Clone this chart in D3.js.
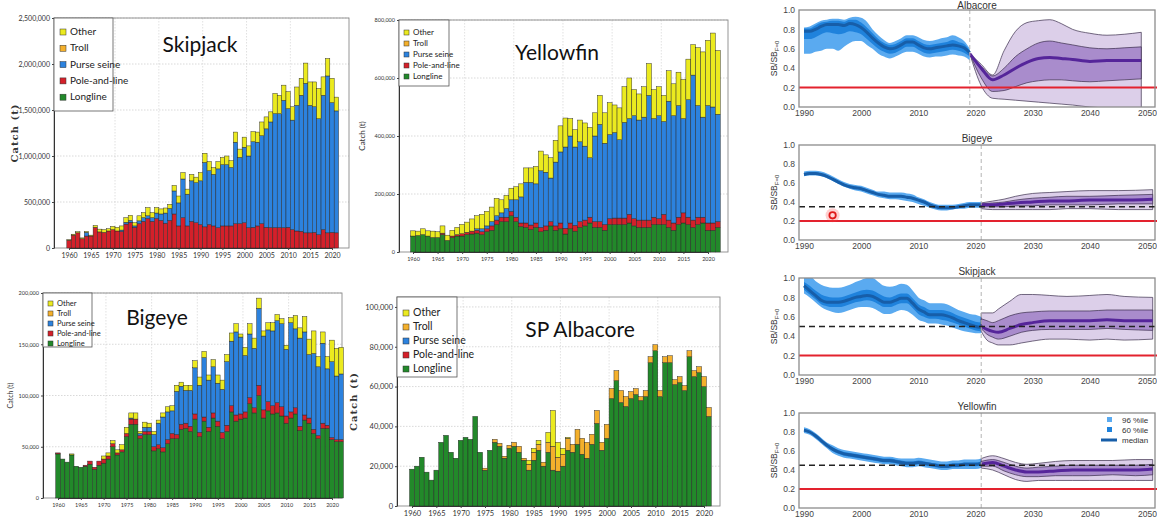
<!DOCTYPE html>
<html>
<head>
<meta charset="utf-8">
<script src="https://cdn.jsdelivr.net/npm/d3@7"></script>
<style>
  body { margin: 0; background: #fff; }
  svg { display: block; }
</style>
</head>
<body>
<svg id="chart" width="1157" height="518"></svg>
<script>
// ---------------- catch data (thousand tonnes) ----------------
var skjYears = d3.range(1960, 2022);
var skjPoleLine = [85,140,165,100,130,130,225,175,170,185, 200,185,180,260,280,225,265,290,320,290, 320,300,270,300,370,240,330,240,290,275, 255,230,255,240,220,240,240,240,265,265, 275,220,225,240,265,225,222,222,222,220, 225,200,185,182,165,165,170,145,200,165, 170,165];
var skjPurse = [0,0,0,0,40,0,0,0,0,0, 0,0,15,20,20,15,30,40,30,40, 60,70,110,130,250,250,420,345,440,435, 475,700,585,560,640,665,665,635,885,720, 820,780,930,910,955,1070,1148,1238,1238,1385, 1290,1190,1365,1478,1625,1385,1365,1260,1460,1705, 1410,1325];
var skjOther = [5,10,12,10,10,10,20,30,30,25, 35,40,45,50,55,35,55,55,90,55, 60,55,55,45,60,75,70,55,70,60, 90,100,100,75,80,80,95,75,110,90, 110,110,110,110,150,130,110,220,200,165, 185,145,200,185,220,255,270,330,200,190, 265,150];

var yftYears = d3.range(1960, 2023);
var yftLongline = [55,57,60,55,50,50,60,40,50,55, 55,60,62,65,60,70,75,95,105,105, 125,105,88,85,78,85,70,75,90,75, 80,62,80,72,85,90,100,85,85,75, 95,95,95,95,100,90,85,85,85,95, 95,95,85,75,95,100,95,85,95,100, 75,75,85];
var yftPoleLine = [0,0,0,0,0,0,5,0,5,5, 8,8,10,10,10,10,15,15,15,15, 15,15,12,15,15,15,15,15,15,15, 20,20,20,20,20,20,20,20,20,20, 20,22,22,22,30,25,25,25,25,25, 20,35,25,25,25,35,25,25,25,20, 25,25,20];
var yftPurse = [0,0,0,0,0,0,0,0,0,0, 0,0,0,5,10,10,15,15,15,30, 40,60,90,140,147,135,195,185,150,220, 245,280,300,270,275,255,205,295,335,280, 290,295,270,330,330,355,345,355,430,340, 355,320,410,370,385,325,405,500,385,345, 405,400,370];
var yftOther = [18,15,20,18,22,20,25,18,20,25, 32,35,42,45,50,50,50,60,45,45, 40,45,45,50,50,60,68,60,70,75, 90,100,60,60,75,80,105,80,100,105, 110,95,110,123,140,90,90,105,110,100, 100,90,105,110,115,135,140,105,200,225, 225,255,220];

var betYears = d3.range(1960, 2023);
var betLongline = [43,38,35,42,31,30,31,33,28,32, 34,38,50,42,45,60,72,72,58,62, 62,46,48,45,53,58,58,67,68,65, 77,60,75,65,78,70,58,65,84,75, 77,78,92,83,100,78,85,82,83,80, 73,78,82,66,76,73,63,58,68,68, 57,55,55];
var betPoleLine = [1,0,0,0,0,0,1,3,2,4, 4,3,3,2,2,3,5,5,3,3, 3,4,4,4,4,5,4,5,5,5, 5,4,4,4,5,5,6,6,6,6, 5,6,6,5,10,8,9,8,10,9, 7,6,6,4,5,5,4,3,5,3, 2,2,2];
var betPurse = [0,0,0,0,0,0,0,0,0,0, 0,0,0,0,0,0,1,0,2,4, 4,12,21,30,27,22,42,37,32,35, 45,46,58,46,45,37,42,62,63,81, 75,55,62,58,75,72,70,73,80,81, 65,87,77,86,81,62,74,67,78,55, 74,62,64];
var betOther = [0,0,0,1,0,0,0,0,0,0, 3,3,3,3,5,6,5,6,2,5, 4,3,3,4,5,5,6,4,5,5, 7,8,6,5,7,8,9,7,8,8, 3,8,10,10,10,5,7,8,6,5, 4,5,13,10,15,15,22,10,11,12, 21,27,26];

var albYears = d3.range(1960, 2022);
var albLongline = [18.5,20,24.5,17,13,18,32,35.5,27,24, 33,34.5,33.5,45,27,18,28,32,30,24, 29,30,27,23,18,23,28,20,27,18, 17.5,20,28,27,31,26,24,31,41.5,28, 34,54,63,52,50,54,56,53,55,72, 78,55,72,72,61,62,58,75,65,67, 60,45];
var albTroll = [0,0,0,0,0,0,0,0,0,0, 0,0,0,0,0,1,0,1.5,1.5,1, 1.5,2,3,1,3,4,3,2,5,12, 7,6,6,4,7.5,8,8,5,6.5,4, 7,5,5,6,5,3.5,3,2,3,3, 3,3,3,3.5,2.5,3,2.5,3,3,3, 5,4.5];
var albOther = [0,0,0,0,0,0,0,0,0,0, 0,0,0,0,0,0,0,0,0,0, 0,0,0,0,2,2,2,0,5,18, 7.5,3,0.5,0,0,0,0,0,0,0, 0,0,0,0,0,0,0,0,0,0, 0,0,0,0,0,0,0,0,0,0, 0,0];

// ---------------- SB/SB_F=0 data ----------------
var albHistYears = d3.range(1990, 2020);
var albHistMed  = [0.78,0.78,0.80,0.83,0.85,0.85,0.85,0.84,0.86,0.85, 0.82,0.77,0.71,0.66,0.62,0.60,0.61,0.64,0.67,0.67, 0.64,0.61,0.60,0.61,0.62,0.63,0.64,0.63,0.61,0.56];
var albHistLo96 = [0.55,0.55,0.57,0.58,0.60,0.60,0.58,0.62,0.66,0.68, 0.68,0.64,0.60,0.55,0.52,0.50,0.52,0.55,0.57,0.57, 0.55,0.52,0.51,0.52,0.52,0.53,0.54,0.53,0.52,0.48];
var albHistHi96 = [0.82,0.83,0.86,0.89,0.90,0.91,0.91,0.90,0.92,0.93, 0.92,0.88,0.80,0.74,0.69,0.66,0.68,0.71,0.74,0.74, 0.72,0.69,0.68,0.69,0.71,0.72,0.74,0.72,0.68,0.60];
var albHistLo60 = [0.70,0.70,0.72,0.75,0.77,0.76,0.75,0.76,0.78,0.77, 0.75,0.70,0.65,0.60,0.57,0.55,0.56,0.59,0.62,0.62, 0.59,0.56,0.55,0.56,0.57,0.58,0.59,0.58,0.56,0.52];
var albHistHi60 = [0.81,0.81,0.84,0.87,0.88,0.89,0.89,0.88,0.90,0.90, 0.87,0.82,0.76,0.70,0.66,0.64,0.65,0.68,0.71,0.71, 0.68,0.65,0.64,0.65,0.66,0.67,0.69,0.67,0.65,0.58];
var albProjYears = [2019,2021,2023,2025,2027,2029,2031,2033,2035,2037,2040,2043,2046,2049];
var albProjMed  = [0.55,0.40,0.28,0.33,0.40,0.46,0.50,0.51,0.50,0.49,0.47,0.48,0.48,0.48];
var albProjHi96 = [0.55,0.44,0.33,0.58,0.78,0.87,0.89,0.90,0.86,0.80,0.76,0.74,0.75,0.77];
var albProjHi60 = [0.55,0.42,0.32,0.40,0.52,0.60,0.66,0.68,0.66,0.64,0.61,0.60,0.61,0.62];
var albProjLo60 = [0.55,0.30,0.16,0.17,0.21,0.25,0.27,0.28,0.28,0.27,0.26,0.27,0.28,0.29];
var albProjLo96 = [0.55,0.22,0.09,0.08,0.07,0.06,0.05,0.04,0.03,0.02,0.00,-0.01,-0.02,-0.02];

var betHistYears = d3.range(1990, 2022);
var betHistMed  = [0.69,0.70,0.70,0.69,0.67,0.64,0.61,0.58,0.56,0.55, 0.54,0.52,0.50,0.48,0.47,0.46,0.46,0.46,0.45,0.44, 0.42,0.40,0.37,0.35,0.34,0.34,0.34,0.35,0.36,0.37, 0.37,0.37];
var betHistHi96 = [0.72,0.73,0.73,0.72,0.70,0.67,0.64,0.61,0.59,0.58, 0.57,0.55,0.53,0.51,0.51,0.50,0.50,0.50,0.49,0.48, 0.45,0.43,0.40,0.38,0.37,0.37,0.37,0.38,0.39,0.40, 0.40,0.40];
var betHistLo96 = [0.67,0.68,0.68,0.67,0.65,0.62,0.59,0.56,0.54,0.52, 0.51,0.49,0.47,0.45,0.44,0.43,0.43,0.42,0.41,0.40, 0.38,0.36,0.34,0.32,0.31,0.31,0.32,0.33,0.33,0.34, 0.34,0.34];
var betHistHi60 = [0.70,0.71,0.71,0.70,0.68,0.65,0.62,0.59,0.57,0.56, 0.55,0.53,0.51,0.49,0.48,0.47,0.47,0.47,0.46,0.45, 0.43,0.41,0.38,0.36,0.35,0.35,0.35,0.36,0.37,0.38, 0.38,0.38];
var betHistLo60 = [0.68,0.69,0.69,0.68,0.66,0.63,0.60,0.57,0.55,0.54, 0.53,0.51,0.49,0.47,0.46,0.45,0.45,0.45,0.44,0.43, 0.41,0.39,0.36,0.34,0.33,0.33,0.33,0.34,0.35,0.36, 0.36,0.36];
var betProjYears = [2021,2023,2025,2027,2030,2033,2036,2040,2045,2051];
var betProjMed  = [0.37,0.37,0.38,0.39,0.40,0.41,0.41,0.42,0.42,0.43];
var betProjHi96 = [0.39,0.41,0.43,0.46,0.49,0.50,0.51,0.52,0.52,0.53];
var betProjHi60 = [0.38,0.39,0.40,0.42,0.44,0.45,0.46,0.46,0.47,0.48];
var betProjLo60 = [0.35,0.35,0.35,0.36,0.36,0.37,0.37,0.37,0.38,0.38];
var betProjLo96 = [0.33,0.32,0.32,0.32,0.32,0.32,0.33,0.33,0.32,0.32];
var betMarker = [{year: 1995, value: 0.26}];

var skjHistYears = d3.range(1990, 2022);
var skjHistMed  = [0.92,0.87,0.82,0.77,0.75,0.75,0.75,0.76,0.78,0.80, 0.81,0.82,0.81,0.78,0.75,0.75,0.77,0.79,0.79,0.74, 0.68,0.65,0.62,0.62,0.62,0.61,0.59,0.56,0.54,0.52, 0.50,0.49];
var skjHistHi96 = [1.02,1.02,0.97,0.93,0.91,0.90,0.90,0.91,0.93,0.96, 0.98,1.00,1.00,0.96,0.92,0.91,0.92,0.94,0.93,0.87, 0.80,0.77,0.74,0.74,0.74,0.73,0.70,0.67,0.65,0.63, 0.62,0.60];
var skjHistLo96 = [0.84,0.80,0.75,0.70,0.67,0.65,0.64,0.65,0.67,0.69, 0.70,0.70,0.69,0.66,0.63,0.63,0.65,0.67,0.66,0.62, 0.57,0.55,0.53,0.53,0.52,0.51,0.49,0.47,0.45,0.44, 0.43,0.43];
var skjHistHi60 = [0.96,0.92,0.87,0.83,0.81,0.80,0.80,0.81,0.83,0.85, 0.87,0.88,0.87,0.84,0.81,0.80,0.82,0.84,0.84,0.79, 0.73,0.70,0.67,0.67,0.67,0.66,0.64,0.61,0.59,0.57, 0.55,0.54];
var skjHistLo60 = [0.88,0.83,0.78,0.73,0.71,0.70,0.70,0.71,0.73,0.75, 0.76,0.77,0.76,0.73,0.70,0.70,0.72,0.74,0.74,0.69, 0.63,0.60,0.58,0.58,0.57,0.56,0.54,0.52,0.50,0.48, 0.46,0.45];
var skjProjYears = [2021,2022,2023,2024,2026,2028,2030,2033,2036,2040,2043,2046,2051];
var skjProjMed  = [0.50,0.47,0.45,0.44,0.48,0.52,0.54,0.56,0.56,0.56,0.57,0.56,0.56];
var skjProjHi96 = [0.64,0.64,0.64,0.68,0.76,0.83,0.83,0.82,0.81,0.82,0.83,0.81,0.80];
var skjProjHi60 = [0.58,0.56,0.54,0.56,0.61,0.64,0.65,0.66,0.66,0.66,0.67,0.67,0.67];
var skjProjLo60 = [0.48,0.42,0.39,0.37,0.40,0.44,0.46,0.47,0.47,0.47,0.48,0.47,0.46];
var skjProjLo96 = [0.45,0.36,0.33,0.31,0.31,0.33,0.35,0.37,0.37,0.36,0.37,0.36,0.37];

var yftHistYears = d3.range(1990, 2022);
var yftHistMed  = [0.82,0.80,0.76,0.71,0.66,0.62,0.59,0.57,0.56,0.55, 0.54,0.53,0.52,0.51,0.50,0.50,0.49,0.48,0.47,0.47, 0.48,0.47,0.46,0.45,0.44,0.44,0.45,0.45,0.46,0.46, 0.46,0.47];
var yftHistHi96 = [0.85,0.83,0.79,0.74,0.69,0.66,0.63,0.61,0.60,0.59, 0.58,0.57,0.56,0.55,0.54,0.54,0.53,0.52,0.52,0.52, 0.53,0.52,0.51,0.50,0.49,0.49,0.50,0.50,0.51,0.51, 0.51,0.52];
var yftHistLo96 = [0.79,0.77,0.73,0.68,0.63,0.58,0.55,0.53,0.52,0.51, 0.50,0.49,0.48,0.47,0.46,0.46,0.45,0.44,0.43,0.43, 0.44,0.43,0.42,0.41,0.40,0.40,0.41,0.41,0.41,0.41, 0.41,0.42];
var yftHistHi60 = [0.83,0.81,0.77,0.72,0.67,0.64,0.61,0.59,0.58,0.57, 0.56,0.55,0.54,0.53,0.52,0.52,0.51,0.50,0.49,0.49, 0.50,0.49,0.48,0.47,0.46,0.46,0.47,0.47,0.48,0.48, 0.48,0.49];
var yftHistLo60 = [0.81,0.79,0.75,0.70,0.65,0.60,0.57,0.55,0.54,0.53, 0.52,0.51,0.50,0.49,0.48,0.48,0.47,0.46,0.45,0.45, 0.46,0.45,0.44,0.43,0.42,0.42,0.43,0.43,0.44,0.44, 0.44,0.45];
var yftProjYears = [2021,2023,2025,2027,2029,2031,2034,2037,2040,2044,2048,2051];
var yftProjMed  = [0.46,0.48,0.44,0.40,0.38,0.38,0.39,0.40,0.40,0.40,0.40,0.41];
var yftProjHi96 = [0.52,0.55,0.52,0.48,0.46,0.47,0.49,0.50,0.50,0.50,0.51,0.51];
var yftProjHi60 = [0.49,0.51,0.48,0.44,0.42,0.43,0.44,0.45,0.45,0.45,0.45,0.46];
var yftProjLo60 = [0.44,0.44,0.39,0.35,0.33,0.33,0.34,0.34,0.34,0.35,0.34,0.35];
var yftProjLo96 = [0.42,0.40,0.35,0.30,0.28,0.29,0.29,0.29,0.29,0.29,0.29,0.29];

var gearKeys = ["Longline", "Pole-and-line", "Purse seine", "Troll", "Other"];
var legendOrder = ["Other", "Troll", "Purse seine", "Pole-and-line", "Longline"];
var sbTicks = [0, 0.2, 0.4, 0.6, 0.8, 1.0];
var yearTicksProj = [1990, 2000, 2010, 2020, 2030, 2040, 2050];
var legendRows = ["96 %ile", "60 %ile", "median"];

var svg = d3.select("#chart");
var gearColor = d3.scaleOrdinal()
    .domain(gearKeys)
    .range(["#22892a", "#d4202a", "#2c82de", "#f4b02c", "#ebea1f"]);
var barFont = "Lato, 'Open Sans', sans-serif";


//================= stacked catch bars =====================//
function barChart(o) {
  var g = svg.append("g");

  var x = d3.scaleLinear().domain([1960, 2020]).range([o.x1960, o.x2020]);
  var y = d3.scaleLinear().domain([0, o.yMax]).range([o.bottom, o.top]);
  var step = x(1961) - x(1960);

  var rows = o.years.map(function(yr, i) {
    var r = {year: yr};
    gearKeys.forEach(function(k) { r[k] = o.series[k] ? o.series[k][i] : 0; });
    return r;
  });
  var stacked = d3.stack().keys(gearKeys)(rows);

  // grid
  g.append("g").selectAll("line").data(o.yTicks.slice(1)).join("line")
    .attr("x1", o.left).attr("x2", o.right)
    .attr("y1", function(d) { return y(d); }).attr("y2", function(d) { return y(d); })
    .attr("stroke", "#c8c8c8").attr("stroke-width", 0.7).attr("stroke-dasharray", "1.5,1.5");
  g.append("g").selectAll("line").data([1970, 1980, 1990, 2000, 2010]).join("line")
    .attr("x1", function(d) { return x(d) + step / 2; }).attr("x2", function(d) { return x(d) + step / 2; })
    .attr("y1", o.top).attr("y2", o.bottom)
    .attr("stroke", "#d4d4d4").attr("stroke-width", 0.7).attr("stroke-dasharray", "1.5,1.5");

  // frame
  g.append("rect").attr("x", o.left).attr("y", o.top)
    .attr("width", o.right - o.left).attr("height", o.bottom - o.top)
    .attr("fill", "none").attr("stroke", "#8a8a8a").attr("stroke-width", 0.9);

  // bars
  g.append("g").selectAll("g").data(stacked).join("g")
    .attr("fill", function(d) { return gearColor(d.key); })
    .selectAll("rect").data(function(d) { return d.filter(function(s) { return s[1] - s[0] > 0; }); }).join("rect")
      .attr("x", function(d) { return x(d.data.year) - step / 2; })
      .attr("width", step)
      .attr("y", function(d) { return y(d[1]); })
      .attr("height", function(d) { return y(d[0]) - y(d[1]); })
      .attr("stroke", "#262626").attr("stroke-width", 0.45);

  // axes
  var yAxis = g.append("g").attr("transform", "translate(" + o.left + ",0)")
    .call(d3.axisLeft(y).tickValues(o.yTicks).tickSize(2).tickSizeOuter(0).tickPadding(2)
      .tickFormat(function(v) { return d3.format(",")(v * 1000); }));
  var xAxis = g.append("g").attr("transform", "translate(0," + o.bottom + ")")
    .call(d3.axisBottom(x).tickValues(d3.range(1960, 2021, 5)).tickSize(2).tickSizeOuter(0).tickPadding(3)
      .tickFormat(d3.format("d")));
  [xAxis, yAxis].forEach(function(a) {
    a.selectAll("text").attr("font-family", barFont)
      .attr("font-size", o.tickFont).attr("fill", "#333");
    a.selectAll("line").attr("stroke", "#444");
    a.select(".domain").attr("stroke", "#333").attr("stroke-width", 1);
  });

  // y label
  svg.append("text")
    .attr("transform", "translate(" + o.yLabelX + "," + ((o.top + o.bottom) / 2) + ") rotate(-90)")
    .attr("text-anchor", "middle")
    .attr("font-family", o.yLabelBold ? "'DejaVu Serif', serif" : "Lato, sans-serif")
    .attr("font-weight", o.yLabelBold ? "bold" : "normal")
    .attr("letter-spacing", o.yLabelBold ? 1 : 0)
    .attr("font-size", o.yLabelFont).attr("fill", "#333")
    .text("Catch (t)");

  // legend
  var lg = g.append("g").attr("transform", "translate(" + o.left + "," + o.top + ")");
  lg.append("rect").attr("width", o.legW).attr("height", o.legH)
    .attr("fill", "#fff").attr("stroke", "#555").attr("stroke-width", 0.8);
  var items = lg.selectAll("g").data(legendOrder).join("g")
    .attr("transform", function(d, i) { return "translate(" + o.legPad + "," + (o.legFirst + i * o.legStep) + ")"; });
  items.append("rect").attr("x", 0).attr("y", -o.sw + 1).attr("width", o.sw).attr("height", o.sw)
    .attr("fill", function(d) { return gearColor(d); }).attr("stroke", "#333").attr("stroke-width", 0.5);
  items.append("text").attr("x", o.sw + 4).attr("y", 1)
    .attr("font-family", barFont).attr("font-size", o.legFont).attr("fill", "#222")
    .text(function(d) { return d; });

  // title
  svg.append("text").attr("x", o.titleX).attr("y", o.titleY).attr("text-anchor", "middle")
    .attr("font-family", barFont).attr("font-size", 21).attr("fill", "#111")
    .text(o.title);
}

barChart({
  title: "Skipjack", titleX: 200, titleY: 52,
  years: skjYears,
  series: {"Pole-and-line": skjPoleLine, "Purse seine": skjPurse, "Other": skjOther},
  left: 54, right: 349, top: 18, bottom: 248, x1960: 69, x2020: 332,
  yMax: 2500, yTicks: [0, 500, 1000, 1500, 2000, 2500], tickFont: 7,
  yLabelX: 18, yLabelFont: 10, yLabelBold: true,
  legW: 59, legH: 93, legPad: 6, legFirst: 16, legStep: 16.3, sw: 6, legFont: 10
});

barChart({
  title: "Yellowfin", titleX: 557, titleY: 60,
  years: yftYears,
  series: {"Longline": yftLongline, "Pole-and-line": yftPoleLine, "Purse seine": yftPurse, "Other": yftOther},
  left: 399, right: 728, top: 20, bottom: 252, x1960: 413, x2020: 708,
  yMax: 800, yTicks: [0, 200, 400, 600, 800], tickFont: 5.5,
  yLabelX: 365, yLabelFont: 8, yLabelBold: false,
  legW: 50, legH: 66, legPad: 5, legFirst: 14, legStep: 11, sw: 5, legFont: 8
});

barChart({
  title: "Bigeye", titleX: 157, titleY: 325,
  years: betYears,
  series: {"Longline": betLongline, "Pole-and-line": betPoleLine, "Purse seine": betPurse, "Other": betOther},
  left: 43, right: 342, top: 293, bottom: 498, x1960: 58, x2020: 332,
  yMax: 200, yTicks: [0, 50, 100, 150, 200], tickFont: 5.5,
  yLabelX: 13, yLabelFont: 7, yLabelBold: false,
  legW: 49, legH: 54, legPad: 5, legFirst: 12, legStep: 10, sw: 5, legFont: 7.5
});

barChart({
  title: "SP Albacore", titleX: 580, titleY: 337,
  years: albYears,
  series: {"Longline": albLongline, "Troll": albTroll, "Other": albOther},
  left: 397, right: 720, top: 297, bottom: 506, x1960: 412, x2020: 704,
  yMax: 105, yTicks: [0, 20, 40, 60, 80, 100], tickFont: 7.5,
  yLabelX: 357, yLabelFont: 10, yLabelBold: true,
  legW: 60, legH: 80, legPad: 6, legFirst: 18, legStep: 14, sw: 6, legFont: 10.5
});


//================= spawning biomass depletion panels =====================//
function sbPanel(o) {
  var g = svg.append("g");
  var x = d3.scaleLinear().domain([1990, 2050]).range([804, 1147]);
  var y = d3.scaleLinear().domain([0, 1]).range([o.bottom, o.top]);
  var left = 799, right = 1155;

  var clipId = "clip" + o.title;
  svg.append("clipPath").attr("id", clipId).append("rect")
    .attr("x", left).attr("y", o.top).attr("width", right - left).attr("height", o.bottom - o.top);

  var inner = g.append("g").attr("clip-path", "url(#" + clipId + ")");

  var band = function(lo, hi) {
    return d3.area().curve(d3.curveMonotoneX)
      .x(function(d, i) { return x(d); })
      .y0(function(d, i) { return y(lo[i]); })
      .y1(function(d, i) { return y(hi[i]); });
  };
  var line = function(v) {
    return d3.line().curve(d3.curveMonotoneX)
      .x(function(d) { return x(d); })
      .y(function(d, i) { return y(v[i]); });
  };

  // historical (blue)
  inner.append("path").attr("d", band(o.hLo96, o.hHi96)(o.hYears)).attr("fill", "#5aaaf0");
  inner.append("path").attr("d", band(o.hLo60, o.hHi60)(o.hYears)).attr("fill", "#1f82dc");
  inner.append("path").attr("d", line(o.hMed)(o.hYears))
    .attr("fill", "none").attr("stroke", "#175ea9").attr("stroke-width", 3);

  // projections (purple)
  inner.append("path").attr("d", band(o.pLo96, o.pHi96)(o.pYears))
    .attr("fill", "#dccfe9").attr("stroke", "#3a2c4a").attr("stroke-width", 0.7);
  inner.append("path").attr("d", band(o.pLo60, o.pHi60)(o.pYears))
    .attr("fill", "#a98ccc").attr("stroke", "#3a2c4a").attr("stroke-width", 0.7);
  inner.append("path").attr("d", line(o.pMed)(o.pYears))
    .attr("fill", "none").attr("stroke", "#55259a").attr("stroke-width", 3);

  // reference lines
  g.append("line").attr("x1", x(o.projStart)).attr("x2", x(o.projStart))
    .attr("y1", o.top).attr("y2", o.bottom)
    .attr("stroke", "#b5b5b5").attr("stroke-width", 1).attr("stroke-dasharray", "4,3");
  if (o.target != null) {
    g.append("line").attr("x1", left).attr("x2", 1157).attr("y1", y(o.target)).attr("y2", y(o.target))
      .attr("stroke", "#222").attr("stroke-width", 1.6).attr("stroke-dasharray", "6,4");
  }
  g.append("line").attr("x1", left).attr("x2", 1157).attr("y1", y(0.2)).attr("y2", y(0.2))
    .attr("stroke", "#e3222e").attr("stroke-width", 2);

  // frame
  g.append("rect").attr("x", left).attr("y", o.top).attr("width", right - left).attr("height", o.bottom - o.top)
    .attr("fill", "none").attr("stroke", "#8c8c8c").attr("stroke-width", 1.3);

  // axes
  var ya = g.append("g").attr("transform", "translate(" + left + ",0)")
    .call(d3.axisLeft(y).tickValues(sbTicks).tickSize(0).tickPadding(4).tickFormat(d3.format(".1f")));
  var xa = g.append("g").attr("transform", "translate(0," + o.bottom + ")")
    .call(d3.axisBottom(x).tickValues(yearTicksProj).tickSize(0).tickPadding(3).tickFormat(d3.format("d")));
  [ya, xa].forEach(function(a) {
    a.select(".domain").remove();
    a.selectAll("text").attr("font-family", "'Liberation Sans', Arial, sans-serif")
      .attr("font-size", 8.5).attr("fill", "#444");
  });

  // labels
  var yl = svg.append("text")
    .attr("transform", "translate(777," + ((o.top + o.bottom) / 2) + ") rotate(-90)")
    .attr("text-anchor", "middle").attr("font-family", "'Liberation Sans', Arial, sans-serif")
    .attr("font-size", 8.5).attr("fill", "#333");
  yl.append("tspan").text("SB/SB");
  yl.append("tspan").attr("font-size", 6).attr("dy", 2).text("F=0");

  svg.append("text").attr("x", 977).attr("y", Math.max(o.top - 3, 9)).attr("text-anchor", "middle")
    .attr("font-family", "'Liberation Sans', Arial, sans-serif").attr("font-size", 10).attr("fill", "#333")
    .text(o.title);

  return {g: g, x: x, y: y};
}

sbPanel({
  title: "Albacore", top: 10, bottom: 107, projStart: 2019, target: null,
  hYears: albHistYears, hMed: albHistMed, hLo96: albHistLo96, hHi96: albHistHi96, hLo60: albHistLo60, hHi60: albHistHi60,
  pYears: albProjYears, pMed: albProjMed, pLo96: albProjLo96, pHi96: albProjHi96, pLo60: albProjLo60, pHi60: albProjHi60
});

var bet = sbPanel({
  title: "Bigeye", top: 145, bottom: 240, projStart: 2021, target: 0.35,
  hYears: betHistYears, hMed: betHistMed, hLo96: betHistLo96, hHi96: betHistHi96, hLo60: betHistLo60, hHi60: betHistHi60,
  pYears: betProjYears, pMed: betProjMed, pLo96: betProjLo96, pHi96: betProjHi96, pLo60: betProjLo60, pHi60: betProjHi60
});
bet.g.selectAll("circle.glow").data(betMarker).join("circle").attr("class", "glow")
  .attr("cx", function(d) { return bet.x(d.year); }).attr("cy", function(d) { return bet.y(d.value); })
  .attr("r", 7).attr("fill", "#ff4040").attr("opacity", 0.25);
bet.g.selectAll("circle.mark").data(betMarker).join("circle").attr("class", "mark")
  .attr("cx", function(d) { return bet.x(d.year); }).attr("cy", function(d) { return bet.y(d.value); })
  .attr("r", 3.2).attr("fill", "#ffd6d6").attr("stroke", "#e01818").attr("stroke-width", 1.8);

sbPanel({
  title: "Skipjack", top: 278, bottom: 375, projStart: 2021, target: 0.5,
  hYears: skjHistYears, hMed: skjHistMed, hLo96: skjHistLo96, hHi96: skjHistHi96, hLo60: skjHistLo60, hHi60: skjHistHi60,
  pYears: skjProjYears, pMed: skjProjMed, pLo96: skjProjLo96, pHi96: skjProjHi96, pLo60: skjProjLo60, pHi60: skjProjHi60
});

sbPanel({
  title: "Yellowfin", top: 413, bottom: 508, projStart: 2021, target: 0.45,
  hYears: yftHistYears, hMed: yftHistMed, hLo96: yftHistLo96, hHi96: yftHistHi96, hLo60: yftHistLo60, hHi60: yftHistHi60,
  pYears: yftProjYears, pMed: yftProjMed, pLo96: yftProjLo96, pHi96: yftProjHi96, pLo60: yftProjLo60, pHi60: yftProjHi60
});

// band legend (yellowfin panel)
var leg = svg.append("g").attr("transform", "translate(1105,420)");
var li = leg.selectAll("g").data(legendRows).join("g")
  .attr("transform", function(d, i) { return "translate(0," + (i * 10) + ")"; });
li.filter(function(d, i) { return i < 2; }).append("rect")
  .attr("x", 2).attr("y", -3).attr("width", 5).attr("height", 5)
  .attr("fill", function(d, i) { return i === 0 ? "#5aaaf0" : "#1f82dc"; });
li.filter(function(d, i) { return i === 2; }).append("line")
  .attr("x1", -4).attr("x2", 12).attr("y1", 0).attr("y2", 0)
  .attr("stroke", "#175ea9").attr("stroke-width", 3);
li.append("text").attr("x", 17).attr("y", 3)
  .attr("font-family", "'Liberation Sans', Arial, sans-serif").attr("font-size", 8).attr("fill", "#333")
  .text(function(d) { return d; });
</script>
</body>
</html>
